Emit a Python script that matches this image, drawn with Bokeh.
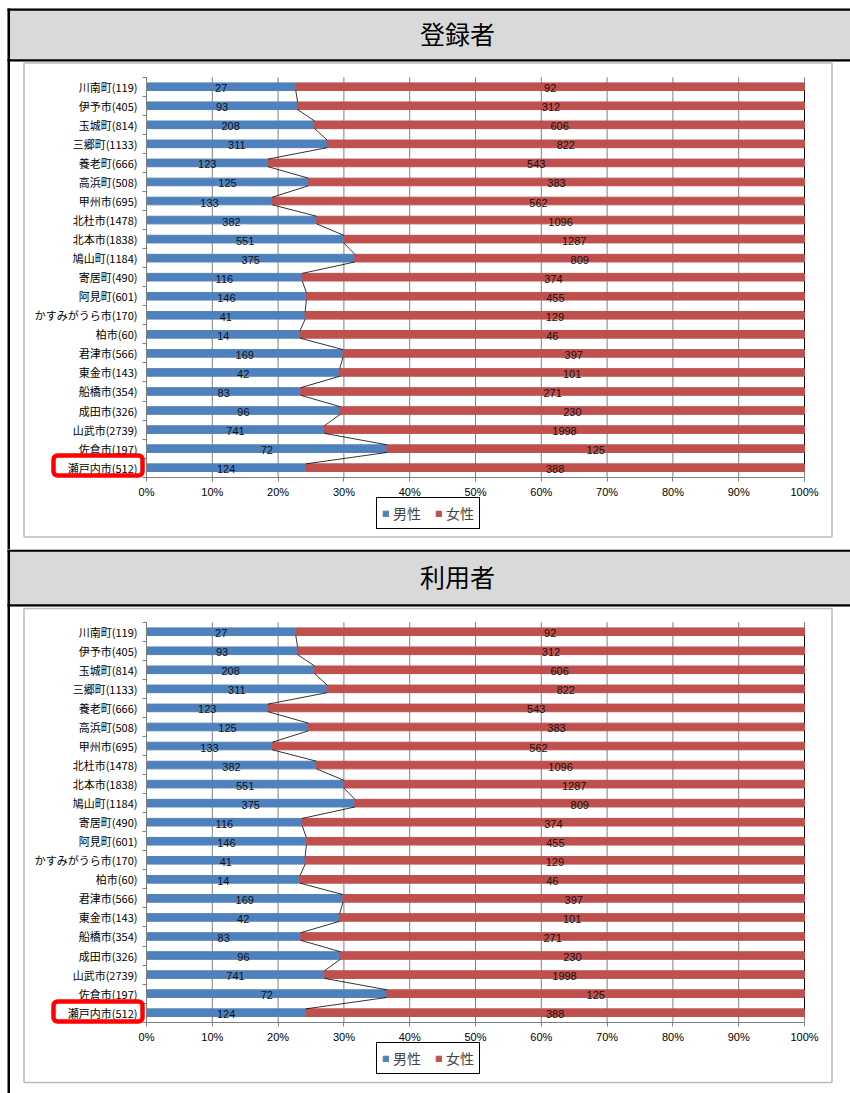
from bokeh.plotting import figure
from bokeh.models import (Range1d, FixedTicker, NumeralTickFormatter, LinearAxis,
                          BoxAnnotation, Legend, LegendItem)
from bokeh.layouts import column
from bokeh.embed import file_html
from bokeh.resources import INLINE
from bokeh.core.properties import value

# ---------------- data ----------------
categories = ["川南町(119)", "伊予市(405)", "玉城町(814)", "三郷町(1133)", "養老町(666)",
              "高浜町(508)", "甲州市(695)", "北杜市(1478)", "北本市(1838)", "鳩山町(1184)",
              "寄居町(490)", "阿見町(601)", "かすみがうら市(170)", "柏市(60)", "君津市(566)",
              "東金市(143)", "船橋市(354)", "成田市(326)", "山武市(2739)", "佐倉市(197)",
              "瀬戸内市(512)"]
reg_male = [27, 93, 208, 311, 123, 125, 133, 382, 551, 375, 116, 146, 41, 14, 169, 42, 83, 96, 741, 72, 124]
reg_female = [92, 312, 606, 822, 543, 383, 562, 1096, 1287, 809, 374, 455, 129, 46, 397, 101, 271, 230, 1998, 125, 388]
use_male = [27, 93, 208, 311, 123, 125, 133, 382, 551, 375, 116, 146, 41, 14, 169, 42, 83, 96, 741, 72, 124]
use_female = [92, 312, 606, 822, 543, 383, 562, 1096, 1287, 809, 374, 455, 129, 46, 397, 101, 271, 230, 1998, 125, 388]
titles = ["登録者", "利用者"]
series_names = ["男性", "女性"]
x_ticks = [0, 0.1, 0.2, 0.3, 0.4, 0.5, 0.6, 0.7, 0.8, 0.9, 1.0]

BLUE = "#4f81bd"
RED = "#c0504d"
GRID = "#7f7f7f"
PLOT_BG = "#d9d9d9"
JP = "Noto Sans CJK JP"
LAT = "Liberation Sans"
W = 850
PLOT_L, PLOT_R, PLOT_H = 146, 804, 400


def make_section(title, male, female, H, top_line, hdr_bottom, box_top, box_bottom,
                 plot_top, red_top, legend_bottom):
    n = len(categories)
    row_px = PLOT_H / n
    unit = PLOT_R - PLOT_L
    tot = [m + f for m, f in zip(male, female)]
    mp = [m / t for m, t in zip(male, tot)]
    ypos = [n - 1 - i for i in range(n)]

    x_range = Range1d(-PLOT_L / unit, (W - PLOT_L) / unit)
    y_range = Range1d(-0.5 - (H - plot_top - PLOT_H) / row_px, (n - 0.5) + plot_top / row_px)
    p = figure(width=W, height=H, x_range=x_range, y_range=y_range,
               output_backend="svg", toolbar_location=None, min_border=0,
               background_fill_color="white", border_fill_color="white",
               outline_line_color=None)
    p.extra_x_ranges = {"px": Range1d(0, W)}
    p.extra_y_ranges = {"py": Range1d(H, 0)}
    px = dict(x_range_name="px", y_range_name="py")

    # ---- page structure (pixel ranges) ----
    p.quad(left=[7], right=[W], top=[top_line], bottom=[hdr_bottom],
           fill_color=PLOT_BG, line_color=None, **px)
    p.quad(left=[7], right=[W], top=[top_line], bottom=[top_line + 2.2],
           fill_color="black", line_color=None, **px)
    p.quad(left=[7], right=[W], top=[hdr_bottom - 2.2], bottom=[hdr_bottom],
           fill_color="black", line_color=None, **px)
    p.quad(left=[7], right=[9.5], top=[top_line], bottom=[H],
           fill_color="black", line_color=None, **px)
    p.quad(left=[23.5], right=[831.5], top=[box_top], bottom=[box_bottom],
           fill_color="white", line_color="#bcbcbc", line_width=1.5, **px)
    p.text(x=[457], y=[(top_line + hdr_bottom) / 2 - 2], text=[title],
           text_align="center", text_baseline="middle", text_font=value(JP),
           text_font_size="25px", text_color="black", **px)

    # ---- chart ----
    p.add_layout(BoxAnnotation(left=0, right=1, bottom=-0.5, top=n - 0.5,
                               fill_color=PLOT_BG, fill_alpha=1, line_alpha=0,
                               level="underlay"))
    p.segment(x0=x_ticks, y0=[-0.5] * len(x_ticks), x1=x_ticks, y1=[n - 0.5] * len(x_ticks),
              line_color=GRID, line_width=1)

    rb = p.hbar(y=ypos, left=0, right=mp, height=0.4, color=BLUE)
    rr = p.hbar(y=ypos, left=mp, right=1, height=0.4, color=RED)

    # series lines (bottom edge of one bar to top edge of the next)
    p.segment(x0=mp[:-1], y0=[y - 0.2 for y in ypos[:-1]],
              x1=mp[1:], y1=[y + 0.2 for y in ypos[1:]],
              line_color="black", line_width=0.8)
    p.segment(x0=[1] * (n - 1), y0=[y - 0.2 for y in ypos[:-1]],
              x1=[1] * (n - 1), y1=[y + 0.2 for y in ypos[1:]],
              line_color="black", line_width=1)

    p.text(x=[v / 2 for v in mp], y=ypos, text=[str(v) for v in male],
           text_align="center", text_baseline="middle", text_font_size="11px",
           text_font=value(LAT), text_color="#111111", y_offset=1.5)
    p.text(x=[(v + 1) / 2 for v in mp], y=ypos, text=[str(v) for v in female],
           text_align="center", text_baseline="middle", text_font_size="11px",
           text_font=value(LAT), text_color="#111111", y_offset=1.5)

    # ---- axes ----
    p.xgrid.visible = False
    p.ygrid.visible = False

    xa = p.xaxis[0]
    xa.fixed_location = -0.5
    xa.bounds = (0, 1)
    xa.ticker = FixedTicker(ticks=x_ticks)
    xa.formatter = NumeralTickFormatter(format="0%")
    xa.axis_line_color = GRID
    xa.major_tick_line_color = GRID
    xa.major_tick_out = 4
    xa.major_tick_in = 0
    xa.minor_tick_line_color = None
    xa.major_label_standoff = 5
    xa.major_label_text_font = LAT
    xa.major_label_text_font_size = "11px"
    xa.major_label_text_color = "black"

    ya = p.yaxis[0]
    ya.fixed_location = 0
    ya.bounds = (-0.5, n - 0.5)
    ya.ticker = FixedTicker(ticks=ypos)
    ya.major_label_overrides = {y: c for y, c in zip(ypos, categories)}
    ya.axis_line_color = GRID
    ya.major_tick_line_color = None
    ya.major_tick_out = 0
    ya.major_tick_in = 0
    ya.minor_tick_line_color = None
    ya.major_label_standoff = 9
    ya.major_label_text_font = JP
    ya.major_label_text_font_size = "11px"
    ya.major_label_text_color = "black"

    tick_axis = LinearAxis(fixed_location=0, bounds=(-0.5, n - 0.5),
                           ticker=FixedTicker(ticks=[k - 0.5 for k in range(n + 1)]),
                           axis_line_color=None, major_tick_line_color=GRID,
                           major_tick_out=4, major_tick_in=0, minor_tick_line_color=None,
                           major_label_text_alpha=0, major_label_text_font_size="1px")
    p.add_layout(tick_axis, "left")

    # red highlight around the last label
    p.add_layout(BoxAnnotation(left=53, right=142, top=red_top, bottom=red_top + 20,
                               x_range_name="px", y_range_name="py",
                               fill_alpha=0, line_color="#ff0000", line_alpha=1,
                               line_width=4.5, border_radius=4, level="overlay"))

    leg = Legend(items=[LegendItem(label=series_names[0], renderers=[rb]),
                        LegendItem(label=series_names[1], renderers=[rr])],
                 orientation="horizontal", location=(376, H - legend_bottom),
                 glyph_width=7, glyph_height=7, label_text_font=JP,
                 label_text_font_size="14px", label_height=14, label_standoff=4,
                 spacing=14, padding=5, margin=0, border_line_color="black",
                 border_line_width=1, border_line_alpha=1, background_fill_alpha=1)
    p.add_layout(leg, "center")
    return p


p1 = make_section(titles[0], reg_male, reg_female, H=549, top_line=8, hdr_bottom=61,
                  box_top=62.5, box_bottom=536.5, plot_top=76.7, red_top=455, legend_bottom=529)
p2 = make_section(titles[1], use_male, use_female, H=544, top_line=0, hdr_bottom=57,
                  box_top=59, box_bottom=533, plot_top=72.7, red_top=452, legend_bottom=525)

layout = column(p1, p2, spacing=0)
open("out.html", "w").write(file_html(layout, INLINE))
